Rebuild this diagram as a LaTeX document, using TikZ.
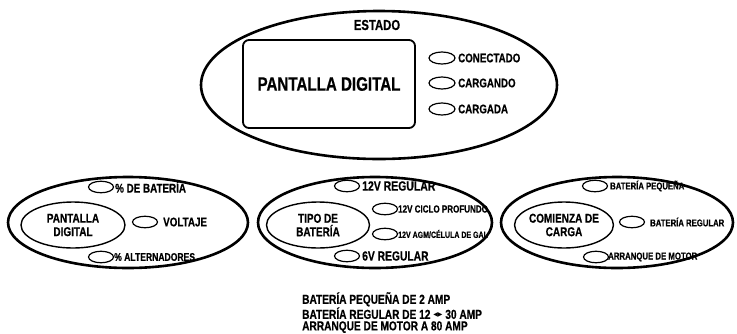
\documentclass[tikz,border=0pt]{standalone}
\usepackage{fontspec}
\setmainfont{Liberation Sans}[UprightFont={* Bold}, BoldFont={* Bold}, FakeStretch=0.78, FakeBold=0.6]
\newfontfamily\symfont{DejaVu Sans}
\usetikzlibrary{shapes.geometric}
\tikzset{
  bigell/.style={draw, ellipse, line width=2.6pt, inner sep=0pt},
  innerell/.style={draw, ellipse, line width=1.4pt, inner sep=0pt, align=center,
    font=\fontsize{12.8}{13.5}\selectfont},
  led/.style={draw, ellipse, line width=1.2pt, inner sep=0pt, minimum width=25pt, minimum height=11.5pt},
  lbl/.style={anchor=west, inner sep=0pt, font=\fontsize{#1}{#1}\selectfont},
  lbl/.default=11.5
}
\begin{document}
\begin{tikzpicture}[x=1pt,y=-1pt]
\useasboundingbox (0,0) rectangle (737,333);
% top panel
\node[bigell, minimum width=356pt, minimum height=148pt] (top) at (379,85) {};
\node[font=\fontsize{14.5}{15}\selectfont, inner sep=0pt] (estado) at (377,25) {ESTADO};
\node[draw, rounded corners=6pt, line width=1.8pt, minimum width=172pt, minimum height=88pt,
  font=\fontsize{19.4}{20}\selectfont] (disp) at (329,84) {PANTALLA DIGITAL};
\node[led, minimum width=26pt, minimum height=12pt] (l1) at (442,58) {};
\node[led, minimum width=26pt, minimum height=12pt] (l2) at (442,83) {};
\node[led, minimum width=26pt, minimum height=12pt] (l3) at (442,109) {};
\node[lbl=12.5] (t1) at (458,58) {CONECTADO};
\node[lbl=12.5] (t2) at (458,83) {CARGANDO};
\node[lbl=12.5] (t3) at (458,109) {CARGADA};
% left panel
\node[bigell, minimum width=240pt, minimum height=91pt] (left) at (128,222.5) {};
\node[innerell, minimum width=104pt, minimum height=46pt] (lin) at (73,225) {PANTALLA\\DIGITAL};
\node[led] (a1) at (101,187) {};
\node[led] (a2) at (145,222) {};
\node[led] (a3) at (101,257) {};
\node[lbl=12.6] (b1) at (115,187) {\% DE BATERÍA};
\node[lbl=12.6] (b2) at (163,222) {VOLTAJE};
\node[lbl=11] (b3) at (114,257) {\% ALTERNADORES};
% middle panel
\node[bigell, minimum width=234pt, minimum height=91pt] (mid) at (375,222.5) {};
\node[innerell, minimum width=103pt, minimum height=46pt] (min) at (318,225) {TIPO DE\\BATERÍA};
\node[led] (c1) at (347,186) {};
\node[led] (c2) at (385,209) {};
\node[led] (c3) at (385,234) {};
\node[led] (c4) at (347,256) {};
\node[lbl=13.4] (d1) at (362,186) {12V REGULAR};
\node[lbl=10.3] (d2) at (398,209) {12V CICLO PROFUNDO};
\node[lbl=9] (d3) at (398,234) {12V AGM/CÉLULA DE GAL};
\node[lbl=13.2] (d4) at (362,256) {6V REGULAR};
% right panel
\node[bigell, minimum width=232pt, minimum height=91pt] (right) at (617,222.5) {};
\node[innerell, minimum width=98pt, minimum height=46pt] (rin) at (564,225) {COMIENZA DE\\CARGA};
\node[led] (e1) at (595,186) {};
\node[led] (e2) at (632,222) {};
\node[led] (e3) at (596,257) {};
\node[lbl=9.9] (f1) at (610,186) {BATERÍA PEQUEÑA};
\node[lbl=9.9] (f2) at (650,222) {BATERÍA REGULAR};
\node[lbl=10] (f3) at (608,257) {ARRANQUE DE MOTOR};
% bottom notes
\node[anchor=north west, inner sep=0pt, align=left,
  font=\fontsize{13}{11.5}\selectfont] (notes) at (302,292)
  {BATERÍA PEQUEÑA DE 2 AMP\\
   BATERÍA REGULAR DE 12 {\symfont\fontsize{6}{6}\selectfont\raisebox{2pt}{◀▶}} 30 AMP\\
   ARRANQUE DE MOTOR A 80 AMP};
\end{tikzpicture}
\end{document}
